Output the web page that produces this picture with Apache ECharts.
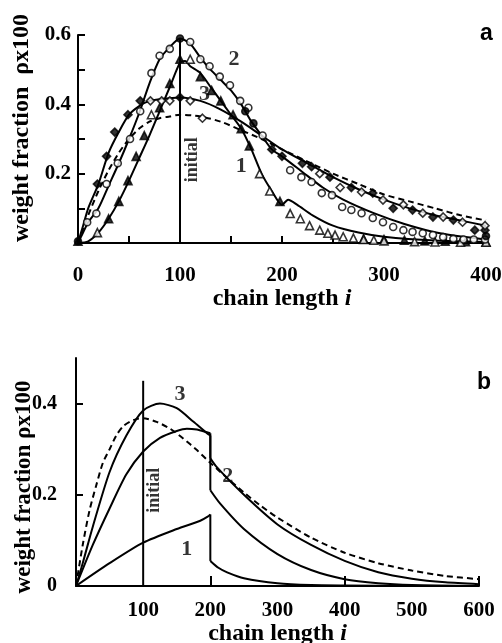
<!DOCTYPE html>
<html>
<head>
<meta charset="utf-8">
<script src="https://cdn.jsdelivr.net/npm/echarts@6/dist/echarts.min.js"></script>
<style>
  html, body { margin: 0; padding: 0; background: #fff; }
  #chart { width: 502px; height: 643px; }
</style>
</head>
<body>
<div id="chart"></div>
<script>
// ---- panel a : measured data with fitted curves ----
const aInitial = [[0,0],[10,0.08],[20,0.15],[30,0.21],[40,0.26],[50,0.3],[60,0.33],[70,0.35],[80,0.36],[90,0.365],[100,0.37],[120,0.365],[140,0.35],[160,0.325],[180,0.3],[200,0.27],[225,0.235],[250,0.2],[275,0.17],[300,0.14],[325,0.12],[350,0.1],[375,0.08],[400,0.065]];
const aLine1 = [[0,0],[10,0.005],[20,0.03],[30,0.07],[40,0.12],[50,0.18],[60,0.245],[70,0.31],[80,0.38],[90,0.45],[100,0.52],[105,0.525],[110,0.51],[120,0.49],[130,0.45],[140,0.41],[150,0.37],[160,0.33],[170,0.27],[180,0.2],[190,0.15],[200,0.11],[206,0.125],[215,0.11],[230,0.08],[250,0.05],[275,0.03],[300,0.018],[350,0.007],[400,0.003]];
const aLine2 = [[0,0],[5,0.03],[10,0.06],[20,0.1],[30,0.165],[40,0.23],[50,0.3],[60,0.375],[70,0.46],[80,0.53],[90,0.565],[100,0.59],[110,0.575],[120,0.535],[130,0.5],[140,0.47],[150,0.44],[160,0.4],[170,0.35],[180,0.31],[190,0.27],[200,0.25],[220,0.205],[240,0.16],[260,0.125],[290,0.086],[320,0.055],[355,0.028],[400,0.01]];
const aLine3 = [[0,0],[5,0.05],[10,0.1],[20,0.17],[30,0.26],[40,0.32],[50,0.37],[60,0.395],[70,0.41],[80,0.415],[100,0.42],[120,0.41],[140,0.385],[160,0.35],[180,0.31],[200,0.27],[225,0.23],[250,0.19],[275,0.155],[300,0.125],[325,0.1],[350,0.08],[375,0.065],[400,0.05]];
const aTriFilled = [[0,0.005],[30,0.07],[40,0.12],[49,0.18],[57,0.25],[65,0.31],[80,0.39],[90,0.46],[100,0.53],[120,0.48],[131,0.44],[140,0.41],[152,0.37],[160,0.33],[168,0.28],[198,0.12],[280,0.012],[300,0.01],[320,0.008],[340,0.006],[360,0.005],[380,0.004],[400,0.003]];
const aTriOpen = [[19,0.03],[72,0.37],[110,0.53],[178,0.2],[188,0.15],[208,0.085],[218,0.07],[227,0.05],[237,0.037],[245,0.028],[252,0.023],[260,0.018],[270,0.014],[280,0.01],[290,0.008],[300,0.006],[330,0.004],[350,0.003],[375,0.002],[400,0.002]];
const aCircOpen = [[9,0.06],[18,0.085],[28,0.17],[39,0.23],[51,0.3],[61,0.38],[72,0.49],[80,0.54],[90,0.56],[110,0.58],[120,0.53],[129,0.51],[139,0.48],[149,0.455],[159,0.41],[167,0.39],[181,0.31],[208,0.21],[219,0.19],[229,0.176],[239,0.144],[249,0.138],[259,0.104],[268,0.095],[278,0.086],[289,0.072],[299,0.06],[309,0.046],[319,0.037],[328,0.032],[338,0.028],[348,0.023],[358,0.017],[368,0.012],[378,0.01],[388,0.01],[399,0.01]];
const aCircFilled = [[0,0.005],[100,0.59],[164,0.38],[172,0.345],[400,0.02]];
const aDiaFilled = [[19,0.17],[28,0.25],[36,0.32],[49,0.37],[61,0.41],[100,0.42],[190,0.27],[200,0.25],[220,0.23],[229,0.22],[247,0.19],[268,0.16],[289,0.144],[309,0.1],[328,0.095],[348,0.075],[368,0.066],[389,0.037],[399,0.037]];
const aDiaOpen = [[71,0.41],[82,0.41],[90,0.41],[110,0.41],[122,0.36],[237,0.2],[257,0.16],[278,0.147],[299,0.124],[319,0.11],[338,0.086],[358,0.075],[377,0.06],[399,0.05]];
const aStart = [[100,0],[100,0.59]];

// ---- panel b : model curves (before / after the cut at i = 200) ----
const bInitial = [[0,0],[10,0.09],[20,0.165],[30,0.22],[40,0.27],[50,0.3],[60,0.33],[70,0.35],[80,0.36],[90,0.366],[100,0.368],[120,0.36],[140,0.345],[160,0.323],[180,0.298],[200,0.27],[225,0.237],[250,0.205],[275,0.176],[300,0.15],[350,0.106],[400,0.073],[450,0.05],[500,0.034],[550,0.022],[600,0.015]];
const bCurve1Up = [[0,0],[50,0.05],[100,0.095],[150,0.125],[185,0.143],[196,0.152],[200,0.157]];
const bCurve1Down = [[200,0.055],[212,0.04],[225,0.03],[250,0.017],[300,0.006],[350,0.002],[400,0.001],[500,0],[600,0]];
const bCurve2Up = [[0,0],[25,0.09],[50,0.17],[75,0.245],[100,0.295],[125,0.325],[150,0.34],[165,0.345],[180,0.343],[195,0.337],[200,0.335]];
const bCurve2Down = [[200,0.21],[215,0.18],[250,0.125],[300,0.07],[350,0.035],[400,0.015],[450,0.006],[500,0.002],[600,0]];
const bCurve3Up = [[0,0],[10,0.05],[25,0.13],[50,0.25],[75,0.33],[100,0.385],[125,0.4],[150,0.39],[175,0.36],[195,0.335],[200,0.33]];
const bCurve3Down = [[200,0.28],[210,0.26],[250,0.2],[300,0.135],[350,0.09],[400,0.055],[450,0.03],[500,0.016],[550,0.008],[600,0.004]];
const bStart = [[100,0],[100,0.45]];

// annotations [x, y, text]
const aNotes = [[153,0.53,'2'],[124,0.43,'3'],[160,0.22,'1']];
const bNotes = [[155,0.42,'3'],[226,0.24,'2'],[165,0.08,'1']];

const serif = "'Liberation Serif', 'Times New Roman', serif";
const black = '#000';

function textStyle(size) {
  return { color: black, fontFamily: serif, fontWeight: 'bold', fontSize: size };
}

function lineSeries(data, idx, dashed, smooth = 0.25) {
  return {
    type: 'line', data, xAxisIndex: idx, yAxisIndex: idx,
    showSymbol: false, smooth, z: 3,
    lineStyle: { color: black, width: 2, type: dashed ? [6, 4] : 'solid' }
  };
}

// a curve drawn in two pieces joined by the vertical drop
function cutCurve(up, down) {
  return [
    lineSeries(up, 1, false),
    lineSeries([up[up.length - 1], down[0]], 1, false, false),
    lineSeries(down, 1, false)
  ];
}

function markerSeries(data, symbol, filled, size) {
  return {
    type: 'scatter', data, xAxisIndex: 0, yAxisIndex: 0,
    symbol, symbolSize: size, z: 4,
    itemStyle: { color: filled ? black : '#fff', borderColor: black, borderWidth: 1.6 }
  };
}

function noteSeries(notes, idx) {
  return {
    type: 'scatter', xAxisIndex: idx, yAxisIndex: idx, symbolSize: 0, z: 5,
    data: notes.map(n => ({ value: [n[0], n[1]], name: n[2] })),
    label: { show: true, position: 'inside', formatter: p => p.name, ...textStyle(22) }
  };
}

function startLabel(idx, x, y) {
  return {
    type: 'scatter', xAxisIndex: idx, yAxisIndex: idx, symbolSize: 0, z: 5,
    data: [{ value: [x, y], name: 'initial' }],
    label: { show: true, position: 'inside', rotate: 90, formatter: 'initial', ...textStyle(18) }
  };
}

const nameStyle = { ...textStyle(24), rich: { it: { ...textStyle(24), fontStyle: 'italic' } } };

const chart = echarts.init(document.getElementById('chart'));
chart.setOption({
  animation: false,
  backgroundColor: '#fff',
  grid: [
    { left: 78, top: 35, width: 408, height: 208, outerBoundsMode: 'none' },
    { left: 76, top: 358, width: 403, height: 228, outerBoundsMode: 'none' }
  ],
  graphic: [
    { type: 'text', left: 480, top: 22, style: { text: 'a', font: "bold 23px 'Liberation Sans'", fill: black } },
    { type: 'text', left: 477, top: 371, style: { text: 'b', font: "bold 23px 'Liberation Sans'", fill: black } }
  ],
  xAxis: [
    {
      gridIndex: 0, type: 'value', min: 0, max: 400, interval: 50,
      name: 'chain length {it|i}', nameLocation: 'middle', nameGap: 43, nameTextStyle: nameStyle,
      axisLine: { lineStyle: { color: black, width: 2 } },
      axisTick: { inside: true, length: 7, lineStyle: { color: black, width: 2 }, customValues: [50,100,150,200,250,300,350,400] },
      axisLabel: { ...textStyle(21), margin: 22, customValues: [0,100,200,300,400] },
      splitLine: { show: false }
    },
    {
      gridIndex: 1, type: 'value', min: 0, max: 600, interval: 100,
      name: 'chain length {it|i}', nameLocation: 'middle', nameGap: 35, nameTextStyle: nameStyle,
      axisLine: { lineStyle: { color: black, width: 2 } },
      axisTick: { inside: true, length: 10, lineStyle: { color: black, width: 2 }, customValues: [200,400,600] },
      axisLabel: { ...textStyle(21), margin: 14, customValues: [100,200,300,400,500,600] },
      splitLine: { show: false }
    }
  ],
  yAxis: [
    {
      gridIndex: 0, type: 'value', min: 0, max: 0.6, interval: 0.1,
      name: 'weight fraction  ρx100', nameLocation: 'middle', nameGap: 43,
      nameTextStyle: { ...textStyle(24), padding: [0, 0, 0, 22] },
      axisLine: { lineStyle: { color: black, width: 2 } },
      axisTick: { inside: true, length: 7, lineStyle: { color: black, width: 2 }, customValues: [0.1,0.2,0.3,0.4,0.5,0.6] },
      axisLabel: { ...textStyle(21), margin: 7, customValues: [0.2,0.4,0.6], formatter: v => v.toFixed(1) },
      splitLine: { show: false }
    },
    {
      gridIndex: 1, type: 'value', min: 0, max: 0.5, interval: 0.1,
      name: 'weight fraction ρx100', nameLocation: 'middle', nameGap: 40, nameMoveOverlap: false,
      nameTextStyle: { ...textStyle(23), padding: [0, 30, 0, 0] },
      axisLine: { lineStyle: { color: black, width: 2 } },
      axisTick: { inside: true, length: 7, lineStyle: { color: black, width: 2 }, customValues: [0.2,0.4] },
      axisLabel: { ...textStyle(20), margin: 19, customValues: [0,0.2,0.4], formatter: v => v === 0 ? '0' : v.toFixed(1) },
      splitLine: { show: false }
    }
  ],
  series: [
    lineSeries(aInitial, 0, true),
    lineSeries(aLine1, 0, false),
    lineSeries(aLine2, 0, false),
    lineSeries(aLine3, 0, false),
    lineSeries(aStart, 0, false, false),
    markerSeries(aTriFilled, 'triangle', true, 8),
    markerSeries(aTriOpen, 'triangle', false, 8),
    markerSeries(aCircOpen, 'circle', false, 7),
    markerSeries(aCircFilled, 'circle', true, 7),
    markerSeries(aDiaFilled, 'diamond', true, 8),
    markerSeries(aDiaOpen, 'diamond', false, 8),
    noteSeries(aNotes, 0),
    startLabel(0, 112, 0.24),
    lineSeries(bInitial, 1, true),
    ...cutCurve(bCurve1Up, bCurve1Down),
    ...cutCurve(bCurve2Up, bCurve2Down),
    ...cutCurve(bCurve3Up, bCurve3Down),
    lineSeries(bStart, 1, false, false),
    noteSeries(bNotes, 1),
    startLabel(1, 117, 0.21)
  ]
});
</script>
</body>
</html>
